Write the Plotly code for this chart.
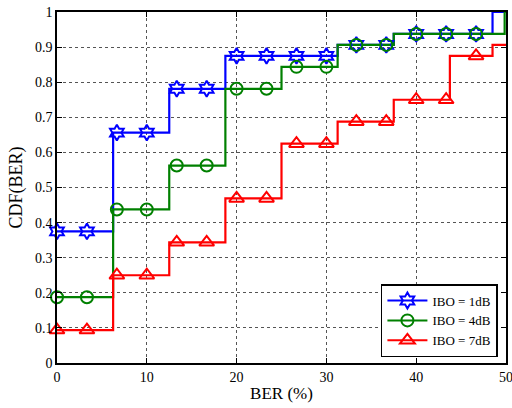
import plotly.graph_objects as go

# Step edges (BER %) and CDF levels for each interval
edges = [0, 6.25, 12.5, 18.75, 25, 31.25, 37.5, 43.75, 48.5, 50]
cdf_1db = [0.375, 0.65625, 0.78125, 0.875, 0.875, 0.90625, 0.9375, 0.9375, 1.0]
cdf_4db = [0.1875, 0.4375, 0.5625, 0.78125, 0.84375, 0.90625, 0.9375, 0.9375, 0.9375]
cdf_7db = [0.09375, 0.25, 0.34375, 0.46875, 0.625, 0.6875, 0.75, 0.875, 0.90625]
green_final_x = 49.85
marker_x = [0, 10/3, 20/3, 10, 40/3, 50/3, 20, 70/3, 80/3, 30, 100/3, 110/3, 40, 130/3, 140/3]

x_ticks = [0, 10, 20, 30, 40, 50]
y_ticks = [0, 0.1, 0.2, 0.3, 0.4, 0.5, 0.6, 0.7, 0.8, 0.9, 1]
y_ticktext = ["0", "0.1", "0.2", "0.3", "0.4", "0.5", "0.6", "0.7", "0.8", "0.9", "1"]

names = ["IBO = 1dB", "IBO = 4dB", "IBO = 7dB"]
colors = ["#0000FF", "#008000", "#FF0000"]
symbols = ["hexagram-open", "circle-open", "triangle-up-open"]
sizes = [12, 12, 13]


def stair(levels, xs=edges):
    x = list(xs[:-1]) + [xs[-1]]
    y = list(levels) + [levels[-1]]
    return x, y


def sample(levels, xv):
    idx = 0
    for i in range(len(edges) - 1):
        if xv >= edges[i]:
            idx = i
    return levels[idx]


fig = go.Figure()
series = [cdf_1db, cdf_4db, cdf_7db]
for k, lev in enumerate(series):
    x, y = stair(lev)
    if k == 1:
        x = x[:-1] + [green_final_x, 50]
        y = y[:-1] + [1.0, 1.0]
        y[-3] = lev[-1]
    fig.add_trace(go.Scatter(x=x, y=y, mode="lines", line=dict(color=colors[k], width=2.2, shape="hv"),
                             showlegend=False, hoverinfo="skip"))
for k, lev in enumerate(series):
    my = [sample(lev, xv) for xv in marker_x]
    fig.add_trace(go.Scatter(x=marker_x, y=my, mode="markers",
                             marker=dict(symbol=symbols[k], size=sizes[k], color=colors[k],
                                         line=dict(width=2, color=colors[k])),
                             showlegend=False, cliponaxis=False))
for k in range(3):
    fig.add_trace(go.Scatter(x=[None], y=[None], mode="lines+markers", name=names[k],
                             line=dict(color=colors[k], width=2),
                             marker=dict(symbol=symbols[k], size=sizes[k], color=colors[k],
                                         line=dict(width=2, color=colors[k]))))

axis_common = dict(showline=True, linecolor="black", linewidth=1.5, mirror="ticks",
                   ticks="inside", ticklen=5, tickcolor="black", showgrid=True,
                   gridcolor="#555555", griddash="dot", gridwidth=1, zeroline=False,
                   automargin=False, ticklabeloverflow="allow",
                   tickfont=dict(family="Liberation Serif", size=14, color="black"))

fig.update_xaxes(range=[0, 50], tickvals=x_ticks, ticktext=[str(v) for v in x_ticks],
                 title=dict(text="BER (%)", standoff=4,
                            font=dict(family="Liberation Serif", size=17, color="black")), **axis_common)
fig.update_yaxes(range=[0, 1], tickvals=y_ticks, ticktext=y_ticktext,
                 title=dict(text="CDF(BER)", standoff=8,
                            font=dict(family="Liberation Serif", size=18, color="black")), **axis_common)

fig.update_layout(width=512, height=408, margin=dict(l=57, r=6, t=12, b=45),
                  plot_bgcolor="white", paper_bgcolor="white",
                  legend=dict(x=0.982, y=0.017, xanchor="right", yanchor="bottom",
                              bgcolor="white", bordercolor="black", borderwidth=1.5,
                              font=dict(family="Liberation Serif", size=13, color="black"),
                              tracegroupgap=0, itemwidth=40))
fig.write_html("out.html")
